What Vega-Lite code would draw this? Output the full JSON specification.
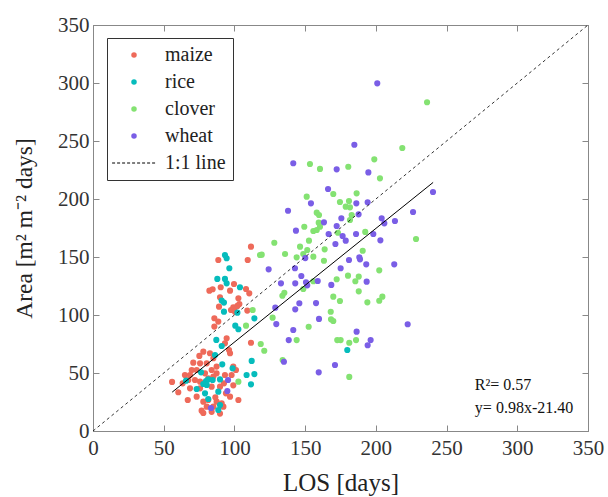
{
  "$schema": "https://vega.github.io/schema/vega-lite/v6.json",
  "width": 495,
  "height": 406,
  "autosize": {"type": "none"},
  "padding": {"left": 93, "top": 25, "right": 20, "bottom": 66},
  "background": "white",
  "config": {
    "font": "Liberation Serif",
    "view": {"stroke": "#888", "strokeWidth": 1},
    "axis": {"domainColor": "#888", "tickColor": "#888", "labelColor": "#333", "titleColor": "#222", "labelFontSize": 21, "titleFontSize": 25, "titleFontWeight": "normal", "grid": false, "tickSize": -6, "labelFlush": false, "labelFont": "Liberation Serif", "titleFont": "Liberation Serif"},
    "legend": {"orient": "none", "legendX": 14, "legendY": 13, "padding": 7, "strokeColor": "#333", "fillColor": "white", "labelFontSize": 20, "labelColor": "#222", "labelFont": "Liberation Serif", "symbolSize": 30, "symbolOffset": 10, "labelOffset": 21, "rowPadding": 7, "symbolDash": [3, 2], "symbolStrokeWidth": 1}
  },
  "datasets": {
    "pts": [
      {"crop":"maize","los":111.7,"area":158.9},{"crop":"maize","los":88.6,"area":147.4},{"crop":"maize","los":109.4,"area":147.4},{"crop":"maize","los":99.7,"area":126.7},{"crop":"maize","los":108.2,"area":122.4},{"crop":"maize","los":110.5,"area":118.7},{"crop":"maize","los":82.3,"area":121.0},{"crop":"maize","los":84.6,"area":122.2},{"crop":"maize","los":90.3,"area":123.9},{"crop":"maize","los":96.9,"area":121.0},{"crop":"maize","los":89.8,"area":115.3},{"crop":"maize","los":89.1,"area":107.2},{"crop":"maize","los":99.2,"area":106.6},{"crop":"maize","los":102.1,"area":107.8},{"crop":"maize","los":102.8,"area":114.4},{"crop":"maize","los":97.6,"area":104.3},{"crop":"maize","los":100.4,"area":102.9},{"crop":"maize","los":103.5,"area":109.5},{"crop":"maize","los":109.1,"area":103.8},{"crop":"maize","los":85.8,"area":97.2},
      {"crop":"maize","los":85.8,"area":90.0},{"crop":"maize","los":88.6,"area":94.3},{"crop":"maize","los":94.5,"area":79.9},{"crop":"maize","los":93.3,"area":75.6},{"crop":"maize","los":111.7,"area":76.1},{"crop":"maize","los":78.0,"area":68.4},{"crop":"maize","los":82.7,"area":67.0},{"crop":"maize","los":75.2,"area":64.7},{"crop":"maize","los":70.9,"area":58.9},{"crop":"maize","los":75.7,"area":58.3},{"crop":"maize","los":80.4,"area":58.3},{"crop":"maize","los":69.8,"area":52.6},{"crop":"maize","los":73.3,"area":52.6},{"crop":"maize","los":79.2,"area":49.7},{"crop":"maize","los":83.9,"area":52.6},{"crop":"maize","los":87.4,"area":55.5},{"crop":"maize","los":85.1,"area":62.7},{"crop":"maize","los":96.9,"area":67.0},{"crop":"maize","los":96.2,"area":69.8},{"crop":"maize","los":65.0,"area":48.3},{"crop":"maize","los":68.6,"area":48.3},{"crop":"maize","los":67.4,"area":44.0},{"crop":"maize","los":63.4,"area":41.1},{"crop":"maize","los":72.1,"area":44.0},{"crop":"maize","los":75.7,"area":42.5},{"crop":"maize","los":81.5,"area":45.4},{"crop":"maize","los":85.1,"area":46.9},{"crop":"maize","los":87.4,"area":49.7},{"crop":"maize","los":93.3,"area":48.3},{"crop":"maize","los":99.2,"area":55.5},{"crop":"maize","los":101.1,"area":52.6},{"crop":"maize","los":98.0,"area":48.3},{"crop":"maize","los":55.9,"area":42.3},{"crop":"maize","los":68.6,"area":36.8},{"crop":"maize","los":73.3,"area":29.6},{"crop":"maize","los":67.0,"area":26.7},{"crop":"maize","los":78.0,"area":25.3},{"crop":"maize","los":81.5,"area":26.7},{"crop":"maize","los":87.4,"area":25.3},{"crop":"maize","los":91.0,"area":23.9},{"crop":"maize","los":94.0,"area":32.5},{"crop":"maize","los":96.9,"area":29.6},{"crop":"maize","los":102.8,"area":26.7},{"crop":"maize","los":76.8,"area":17.5},{"crop":"maize","los":80.4,"area":21.0},{"crop":"maize","los":85.1,"area":21.0},{"crop":"maize","los":83.9,"area":16.5},{"crop":"maize","los":78.0,"area":15.5},{"crop":"maize","los":89.8,"area":15.0},{"crop":"maize","los":92.2,"area":21.0},{"crop":"maize","los":86.5,"area":29.0},{"crop":"maize","los":75.7,"area":36.8},{"crop":"maize","los":83.9,"area":38.2},{"crop":"maize","los":89.8,"area":38.2},{"crop":"maize","los":92.6,"area":41.1},{"crop":"maize","los":60.3,"area":33.4},{"crop":"maize","los":99.2,"area":39.4},
      {"crop":"rice","los":93.3,"area":151.7},{"crop":"rice","los":94.5,"area":148.9},{"crop":"rice","los":96.4,"area":140.3},{"crop":"rice","los":87.9,"area":131.1},{"crop":"rice","los":93.3,"area":131.1},{"crop":"rice","los":94.5,"area":127.3},{"crop":"rice","los":103.9,"area":123.9},{"crop":"rice","los":91.0,"area":112.4},{"crop":"rice","los":92.6,"area":110.7},{"crop":"rice","los":92.6,"area":102.9},{"crop":"rice","los":102.1,"area":102.0},{"crop":"rice","los":114.1,"area":97.1},{"crop":"rice","los":100.6,"area":90.8},{"crop":"rice","los":102.8,"area":87.7},
      {"crop":"rice","los":87.2,"area":78.5},{"crop":"rice","los":91.0,"area":73.3},{"crop":"rice","los":86.3,"area":65.5},{"crop":"rice","los":91.4,"area":57.5},{"crop":"rice","los":98.7,"area":54.0},{"crop":"rice","los":76.4,"area":50.6},{"crop":"rice","los":65.8,"area":43.4},{"crop":"rice","los":112.2,"area":60.4},{"crop":"rice","los":108.6,"area":48.3},{"crop":"rice","los":114.1,"area":49.1},{"crop":"rice","los":111.7,"area":40.2},{"crop":"rice","los":79.9,"area":43.1},{"crop":"rice","los":81.5,"area":44.5},{"crop":"rice","los":84.6,"area":44.0},{"crop":"rice","los":89.8,"area":44.5},{"crop":"rice","los":78.0,"area":40.5},{"crop":"rice","los":80.4,"area":39.7},{"crop":"rice","los":73.3,"area":36.2},{"crop":"rice","los":79.2,"area":32.5},{"crop":"rice","los":88.6,"area":33.9},{"crop":"rice","los":81.5,"area":27.6},{"crop":"rice","los":89.8,"area":22.4},{"crop":"rice","los":88.6,"area":18.1},{"crop":"rice","los":179.8,"area":69.8},
      {"crop":"clover","los":236.2,"area":283.4},{"crop":"clover","los":218.7,"area":244},{"crop":"clover","los":198.9,"area":234.2},{"crop":"clover","los":153.4,"area":230.2},{"crop":"clover","los":160.5,"area":225.9},{"crop":"clover","los":180.5,"area":227.8},{"crop":"clover","los":202.9,"area":217.8},{"crop":"clover","los":169.9,"area":204.3},{"crop":"clover","los":186.4,"area":204.9},{"crop":"clover","los":151.1,"area":202},{"crop":"clover","los":174.6,"area":197.4},{"crop":"clover","los":181,"area":198.3},{"crop":"clover","los":178.7,"area":193.4},{"crop":"clover","los":181.7,"area":192.8},{"crop":"clover","los":158.2,"area":188.2},{"crop":"clover","los":159.8,"area":186.2},{"crop":"clover","los":182.9,"area":186.2},{"crop":"clover","los":181.7,"area":181.9},{"crop":"clover","los":159.6,"area":179.6},{"crop":"clover","los":149.4,"area":176.1},{"crop":"clover","los":155.8,"area":172.4},{"crop":"clover","los":158.2,"area":173.3},{"crop":"clover","los":160.5,"area":176.1},{"crop":"clover","los":173.2,"area":170.9},{"crop":"clover","los":192.5,"area":171.6},{"crop":"clover","los":228.4,"area":165.5},{"crop":"clover","los":152.7,"area":164.1},{"crop":"clover","los":128.2,"area":162.3},{"crop":"clover","los":119.3,"area":152},{"crop":"clover","los":135.8,"area":152.6},{"crop":"clover","los":146.4,"area":158.9},{"crop":"clover","los":144,"area":149.7},{"crop":"clover","los":148.7,"area":152.6},{"crop":"clover","los":151.5,"area":156},{"crop":"clover","los":155.8,"area":150.3},{"crop":"clover","los":163.8,"area":156.6},{"crop":"clover","los":163.3,"area":146.8},{"crop":"clover","los":190.7,"area":155.4},{"crop":"clover","los":202.4,"area":138.5},{"crop":"clover","los":155.8,"area":129.1},{"crop":"clover","los":148.7,"area":122.4},{"crop":"clover","los":172.3,"area":130.8},{"crop":"clover","los":180.3,"area":133.9},{"crop":"clover","los":185.5,"area":129.1},{"crop":"clover","los":187.9,"area":133.1},{"crop":"clover","los":187.9,"area":120.4},{"crop":"clover","los":133.9,"area":116.6},{"crop":"clover","los":135.3,"area":119.2},{"crop":"clover","los":169.9,"area":115.8},{"crop":"clover","los":174.6,"area":112.1},{"crop":"clover","los":194,"area":110.9},{"crop":"clover","los":202.4,"area":112.3},{"crop":"clover","los":204.6,"area":115.8},{"crop":"clover","los":168.1,"area":102.8},{"crop":"clover","los":169.9,"area":94.8},{"crop":"clover","los":168.3,"area":96.3},{"crop":"clover","los":127,"area":97.7},{"crop":"clover","los":152.5,"area":89.9},{"crop":"clover","los":144,"area":78.4},{"crop":"clover","los":172.7,"area":78.4},{"crop":"clover","los":175.1,"area":78.4},{"crop":"clover","los":181.2,"area":76.1},{"crop":"clover","los":186,"area":78.4},{"crop":"clover","los":118.6,"area":75},{"crop":"clover","los":121.1,"area":69.2},{"crop":"clover","los":134.1,"area":61.2},{"crop":"clover","los":181.2,"area":46.6},{"crop":"clover","los":112.9,"area":104.3},{"crop":"clover","los":108.2,"area":90.8},{"crop":"clover","los":102.8,"area":42.5},{"crop":"clover","los":118.1,"area":151.7},
      {"crop":"wheat","los":201,"area":299.7},{"crop":"wheat","los":184.8,"area":246.8},{"crop":"wheat","los":141.6,"area":230.8},{"crop":"wheat","los":172.3,"area":225.6},{"crop":"wheat","los":194.7,"area":222.9},{"crop":"wheat","los":240.4,"area":206},{"crop":"wheat","los":166.2,"area":208.6},{"crop":"wheat","los":154.1,"area":196.3},{"crop":"wheat","los":186.2,"area":196.3},{"crop":"wheat","los":194.2,"area":197.2},{"crop":"wheat","los":226.3,"area":188.8},{"crop":"wheat","los":137.9,"area":189.9},{"crop":"wheat","los":187.8,"area":186.8},{"crop":"wheat","los":175.6,"area":183.4},{"crop":"wheat","los":204.1,"area":183.4},{"crop":"wheat","los":206,"area":179},{"crop":"wheat","los":213.5,"area":181},{"crop":"wheat","los":163.3,"area":179.9},{"crop":"wheat","los":172.3,"area":176.7},{"crop":"wheat","los":143.5,"area":172.7},{"crop":"wheat","los":166.6,"area":169.8},{"crop":"wheat","los":176.5,"area":168.1},{"crop":"wheat","los":178.7,"area":164.1},{"crop":"wheat","los":186,"area":169.8},{"crop":"wheat","los":198.2,"area":169.8},{"crop":"wheat","los":203.2,"area":164.4},{"crop":"wheat","los":171.4,"area":161.2},{"crop":"wheat","los":150.1,"area":149.1},{"crop":"wheat","los":181,"area":147.4},{"crop":"wheat","los":188.3,"area":149.7},{"crop":"wheat","los":188.8,"area":148},{"crop":"wheat","los":193.2,"area":143.7},{"crop":"wheat","los":213,"area":143.7},{"crop":"wheat","los":124.2,"area":139.4},{"crop":"wheat","los":142.8,"area":140.3},{"crop":"wheat","los":175.1,"area":140.3},{"crop":"wheat","los":147.3,"area":133.6},{"crop":"wheat","los":132.9,"area":127.3},{"crop":"wheat","los":143,"area":127.3},{"crop":"wheat","los":150.6,"area":128.2},{"crop":"wheat","los":151.5,"area":125.6},{"crop":"wheat","los":158.9,"area":129.3},{"crop":"wheat","los":193.5,"area":128.7},{"crop":"wheat","los":168.5,"area":125.9},{"crop":"wheat","los":128.9,"area":106.3},{"crop":"wheat","los":143,"area":104.9},{"crop":"wheat","los":145.9,"area":110.1},{"crop":"wheat","los":157.7,"area":110.3},{"crop":"wheat","los":129.6,"area":92.2},{"crop":"wheat","los":159.8,"area":96.6},{"crop":"wheat","los":222.5,"area":92},{"crop":"wheat","los":141.6,"area":87.1},{"crop":"wheat","los":186.4,"area":85.6},{"crop":"wheat","los":138.4,"area":78.4},{"crop":"wheat","los":196.3,"area":78.4},{"crop":"wheat","los":194.2,"area":73.9},{"crop":"wheat","los":135,"area":59.7},{"crop":"wheat","los":171.1,"area":56.9},{"crop":"wheat","los":159.6,"area":50.6},{"crop":"wheat","los":95.5,"area":44.0},{"crop":"wheat","los":95.0,"area":34.5},{"crop":"wheat","los":83.4,"area":19.8}
    ],
    "oneone": [{"los": 0, "area": 0}, {"los": 350, "area": 350}],
    "fit": [{"los": 56, "area": 33.5}, {"los": 240.5, "area": 214.3}],
    "notes": [{"los": 270, "area": 40, "label": "R²= 0.57"}, {"los": 270, "area": 20, "label": "y= 0.98x-21.40"}]
  },
  "layer": [
    {
      "data": {"name": "pts"},
      "mark": {"type": "point", "filled": true, "size": 38, "opacity": 1, "strokeWidth": 1},
      "encoding": {
        "x": {"field": "los", "type": "quantitative", "scale": {"domain": [0, 350], "nice": false}, "axis": {"title": "LOS [days]", "values": [0, 50, 100, 150, 200, 250, 300, 350], "labelPadding": 12, "titlePadding": 12}},
        "y": {"field": "area", "type": "quantitative", "scale": {"domain": [0, 350], "nice": false}, "axis": {"title": "Area [m² m⁻² days]", "titleFontSize": 23.5, "values": [0, 50, 100, 150, 200, 250, 300, 350], "labelPadding": 10, "titlePadding": 21}},
        "color": {
          "field": "crop", "type": "nominal", "title": null,
          "scale": {"domain": ["maize", "rice", "clover", "wheat", "1:1 line"], "range": ["#ee6a5a", "#06bcbc", "#84e272", "#7a5ee6", "#000000"]}
        },
        "shape": {
          "field": "crop", "type": "nominal", "title": null,
          "scale": {"domain": ["maize", "rice", "clover", "wheat", "1:1 line"], "range": ["circle", "circle", "circle", "circle", "M-8,0H8"]}
        },
        "stroke": {
          "field": "crop", "type": "nominal", "title": null,
          "scale": {"domain": ["maize", "rice", "clover", "wheat", "1:1 line"], "range": ["transparent", "transparent", "transparent", "transparent", "#000000"]}
        }
      }
    },
    {
      "data": {"name": "oneone"},
      "mark": {"type": "line", "color": "#000", "strokeWidth": 0.8, "strokeDash": [3, 3]},
      "encoding": {
        "x": {"field": "los", "type": "quantitative", "axis": {"orient": "top", "labels": false, "title": null, "values": [0, 50, 100, 150, 200, 250, 300, 350]}},
        "y": {"field": "area", "type": "quantitative", "axis": {"orient": "right", "labels": false, "title": null, "values": [0, 50, 100, 150, 200, 250, 300, 350]}}
      }
    },
    {
      "data": {"name": "fit"},
      "mark": {"type": "line", "color": "#000", "strokeWidth": 1},
      "encoding": {
        "x": {"field": "los", "type": "quantitative", "axis": null},
        "y": {"field": "area", "type": "quantitative", "axis": null}
      }
    },
    {
      "data": {"name": "notes"},
      "mark": {"type": "text", "align": "left", "baseline": "middle", "fontSize": 16, "font": "Liberation Serif", "color": "#111"},
      "encoding": {
        "x": {"field": "los", "type": "quantitative", "axis": null},
        "y": {"field": "area", "type": "quantitative", "axis": null},
        "text": {"field": "label"}
      }
    }
  ],
  "resolve": {"axis": {"x": "independent", "y": "independent"}}
}
